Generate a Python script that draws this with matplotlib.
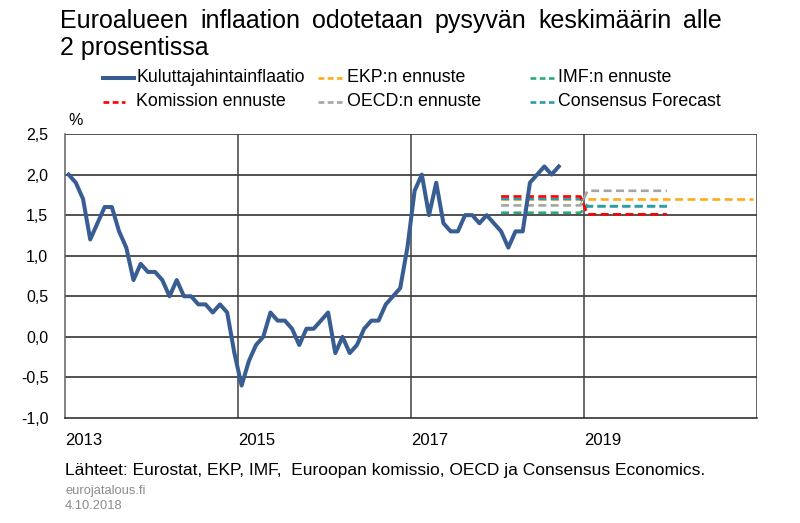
import numpy as np
import matplotlib.pyplot as plt
from matplotlib.lines import Line2D

plt.rcParams['font.family'] = ['Liberation Sans', 'DejaVu Sans']

# monthly HICP inflation, euro area, Jan 2013 - Sep 2018
infl = [2.0, 1.9, 1.7, 1.2, 1.4, 1.6, 1.6, 1.3, 1.1, 0.7, 0.9, 0.8,
        0.8, 0.7, 0.5, 0.7, 0.5, 0.5, 0.4, 0.4, 0.3, 0.4, 0.3, -0.2,
        -0.6, -0.3, -0.1, 0.0, 0.3, 0.2, 0.2, 0.1, -0.1, 0.1, 0.1, 0.2,
        0.3, -0.2, 0.0, -0.2, -0.1, 0.1, 0.2, 0.2, 0.4, 0.5, 0.6, 1.1,
        1.8, 2.0, 1.5, 1.9, 1.4, 1.3, 1.3, 1.5, 1.5, 1.4, 1.5, 1.4,
        1.3, 1.1, 1.3, 1.3, 1.9, 2.0, 2.1, 2.0, 2.1]
start_year = 2013

# annual forecasts (first year 2018)
ecb = [1.7, 1.7, 1.7]
imf = [1.53, 1.61]
commission = [1.73, 1.51]
oecd = [1.62, 1.80]
consensus = [1.70, 1.61]

labels = ['Kuluttajahintainflaatio', 'EKP:n ennuste', 'IMF:n ennuste',
          'Komission ennuste', 'OECD:n ennuste', 'Consensus Forecast']
colors = ['#385D92', '#FFAA1A', '#2EAA78', '#FF0000', '#A5A5A5', '#2E9AAE']
xticks = [2013, 2015, 2017, 2019]
yticks = [-1.0, -0.5, 0.0, 0.5, 1.0, 1.5, 2.0, 2.5]
title1 = 'Euroalueen inflaation odotetaan pysyvän keskimäärin alle'
title2 = '2 prosentissa'

W, H = 800, 523


def fx(x):
    return x / W


def fy(y):
    return 1 - y / H


fig = plt.figure(figsize=(8, 5.23), dpi=100)
ax = fig.add_axes([fx(65), fy(418), (757 - 65) / W, (418 - 134) / H])

t = start_year + (np.arange(len(infl)) + 0.5) / 12
ax.plot(t, infl, color=colors[0], lw=2.9, solid_joinstyle='round', zorder=5)


def forecast(vals, color, z):
    x = 2018 + (np.arange(12 * len(vals)) + 0.5) / 12
    y = np.repeat(vals, 12)
    ax.plot(x, y, color=color, lw=1.9, dashes=(3.0, 1.7), zorder=z)


forecast(imf, colors[2], 3)
forecast(oecd, colors[4], 3.1)
forecast(ecb, colors[1], 3.2)
forecast(consensus, colors[5], 3.3)
forecast(commission, colors[3], 3.4)

ax.set_xlim(2013, 2021)
ax.set_ylim(-1.0, 2.5)
ax.set_yticks(yticks)
ax.set_yticklabels([f'{v:.1f}'.replace('.', ',') for v in yticks], fontsize=11.5)
ax.set_xticks(xticks)
ax.set_xticklabels([str(v) for v in xticks], fontsize=12, ha='left')
ax.tick_params(length=0)
ax.tick_params(axis='y', pad=12)
ax.tick_params(axis='x', pad=11)

for v in yticks[1:]:
    ax.axhline(v, color='#222222', lw=1.1, zorder=1)
for v in [2015, 2017, 2019, 2021]:
    ax.axvline(v, color='#404040', lw=1.1, zorder=1)
for s in ['top', 'right']:
    ax.spines[s].set_visible(False)
ax.spines['left'].set_color('#606060')
ax.spines['bottom'].set_color('#222222')
ax.spines['left'].set_linewidth(1.1)
ax.spines['bottom'].set_linewidth(1.1)

ax.text(0.005, 1.02, '%', transform=ax.transAxes, fontsize=11.5, va='bottom')

# title, first line justified between x=60 and x=722
renderer = fig.canvas.get_renderer()
words = title1.split()
widths = []
for w in words:
    tmp = fig.text(0, 0, w, fontsize=18)
    widths.append(tmp.get_window_extent(renderer).width)
    tmp.remove()
gap = (722 - 60 - sum(widths)) / (len(words) - 1)
x = 60
for w, wd in zip(words, widths):
    fig.text(fx(x), fy(28), w, fontsize=18, va='baseline')
    x += wd + gap
fig.text(fx(60), fy(55), title2, fontsize=18, va='baseline')

# legend drawn by hand
rows = [78, 102]
cols = [(103, 136), (318, 347), (530, 558)]
for i, lab in enumerate(labels):
    r, c = i // 3, i % 3
    x0, xt = cols[c]
    y = rows[r]
    if i == 0:
        fig.add_artist(Line2D([fx(x0), fx(134)], [fy(y), fy(y)], color=colors[0], lw=2.9))
    else:
        x1 = x0 + 24 if c > 0 else 125
        fig.add_artist(Line2D([fx(x0), fx(x1)], [fy(y), fy(y)], color=colors[i],
                              lw=1.9, dashes=(2.2, 1.3)))
    fig.text(fx(xt), fy(y), lab, fontsize=12.8, va='center')

fig.text(fx(65), fy(471), 'Lähteet: Eurostat, EKP, IMF,  Euroopan komissio, OECD ja Consensus Economics.',
         fontsize=12.5, va='center')
fig.text(fx(65), fy(491), 'eurojatalous.fi', fontsize=9.3, color='#8C8C8C', va='center')
fig.text(fx(65), fy(506), '4.10.2018', fontsize=9.3, color='#8C8C8C', va='center')

fig.savefig('out.png', dpi=100)
